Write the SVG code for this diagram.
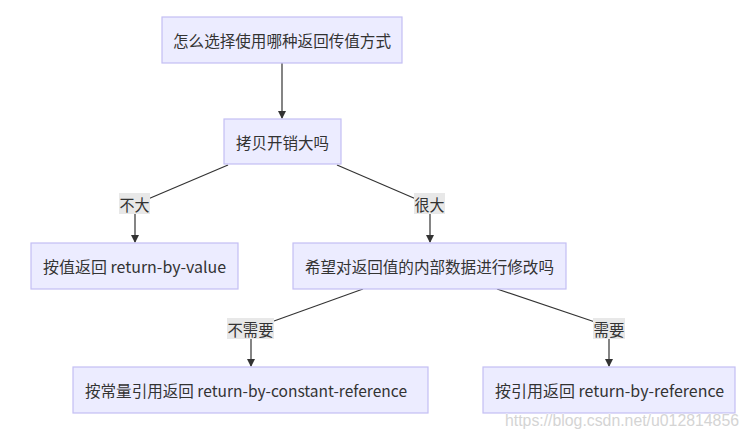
<svg xmlns="http://www.w3.org/2000/svg" width="750" height="430" viewBox="0 0 750 430">
<defs>
<marker id="arr" markerWidth="8" markerHeight="8" refX="7" refY="4" orient="auto" markerUnits="userSpaceOnUse">
<path d="M0,0 L8,4 L0,8 Z" fill="#333"/>
</marker>
<style>
.node rect{fill:#ECECFF;stroke:#c4bff3;stroke-width:1.2}
.node text{font-family:"Noto Sans CJK SC","Noto Sans",sans-serif;font-size:15.5px;fill:#333;text-anchor:middle;dominant-baseline:central}
.edges line, .edges path{stroke:#333;stroke-width:1.2;fill:none}
.lbl rect{fill:#e8e8e8}
.lbl text{font-family:"Noto Sans CJK SC","Noto Sans",sans-serif;font-size:15.5px;fill:#333;text-anchor:middle;dominant-baseline:central}
</style>
</defs>
<rect width="750" height="430" fill="#fff"/>
<g id="edges" class="edges">
<line x1="282" y1="63" x2="282" y2="118" marker-end="url(#arr)"/>
<path d="M228,165 L148,199"/>
<line x1="135" y1="214" x2="135" y2="242" marker-end="url(#arr)"/>
<path d="M337,165 L416,199"/>
<line x1="430" y1="214" x2="430" y2="242" marker-end="url(#arr)"/>
<path d="M363,289 L274,321"/>
<line x1="251" y1="339" x2="251" y2="366" marker-end="url(#arr)"/>
<path d="M497,289 L595,322"/>
<line x1="609" y1="339" x2="609" y2="366" marker-end="url(#arr)"/>
</g>
<g id="labels">
<g id="l1" class="lbl"><rect x="119" y="193" width="31" height="21"/><text x="134.5" y="203.5" textLength="30" lengthAdjust="spacingAndGlyphs">不大</text></g>
<g id="l2" class="lbl"><rect x="414" y="193" width="31" height="21"/><text x="429.5" y="203.5" textLength="30" lengthAdjust="spacingAndGlyphs">很大</text></g>
<g id="l3" class="lbl"><rect x="227" y="318" width="47" height="21"/><text x="250.5" y="328.5" textLength="46" lengthAdjust="spacingAndGlyphs">不需要</text></g>
<g id="l4" class="lbl"><rect x="593" y="318" width="32" height="21"/><text x="609" y="328.5" textLength="31" lengthAdjust="spacingAndGlyphs">需要</text></g>
</g>
<g id="n1" class="node"><rect x="162" y="17" width="240" height="46"/><text x="282" y="40" textLength="218" lengthAdjust="spacingAndGlyphs">怎么选择使用哪种返回传值方式</text></g>
<g id="n2" class="node"><rect x="224" y="119" width="117" height="45"/><text x="282.5" y="141.5" textLength="93" lengthAdjust="spacingAndGlyphs">拷贝开销大吗</text></g>
<g id="n3" class="node"><rect x="31" y="243" width="207" height="46"/><text x="134.5" y="266" textLength="183" lengthAdjust="spacingAndGlyphs">按值返回 return-by-value</text></g>
<g id="n4" class="node"><rect x="293" y="243" width="273" height="46"/><text x="429.5" y="266" textLength="249" lengthAdjust="spacingAndGlyphs">希望对返回值的内部数据进行修改吗</text></g>
<g id="n5" class="node"><rect x="73" y="367" width="355" height="46"/><text x="246" y="390" textLength="322" lengthAdjust="spacingAndGlyphs">按常量引用返回 return-by-constant-reference</text></g>
<g id="n6" class="node"><rect x="483" y="367" width="252" height="46"/><text x="609.5" y="390" textLength="229" lengthAdjust="spacingAndGlyphs">按引用返回 return-by-reference</text></g>
<text x="505" y="426" textLength="234" lengthAdjust="spacingAndGlyphs" font-family="Liberation Sans, sans-serif" font-size="16" fill="#d4d4d4" stroke="#ffffff" stroke-width="0.7" paint-order="stroke">https://blog.csdn.net/u012814856</text>
</svg>
